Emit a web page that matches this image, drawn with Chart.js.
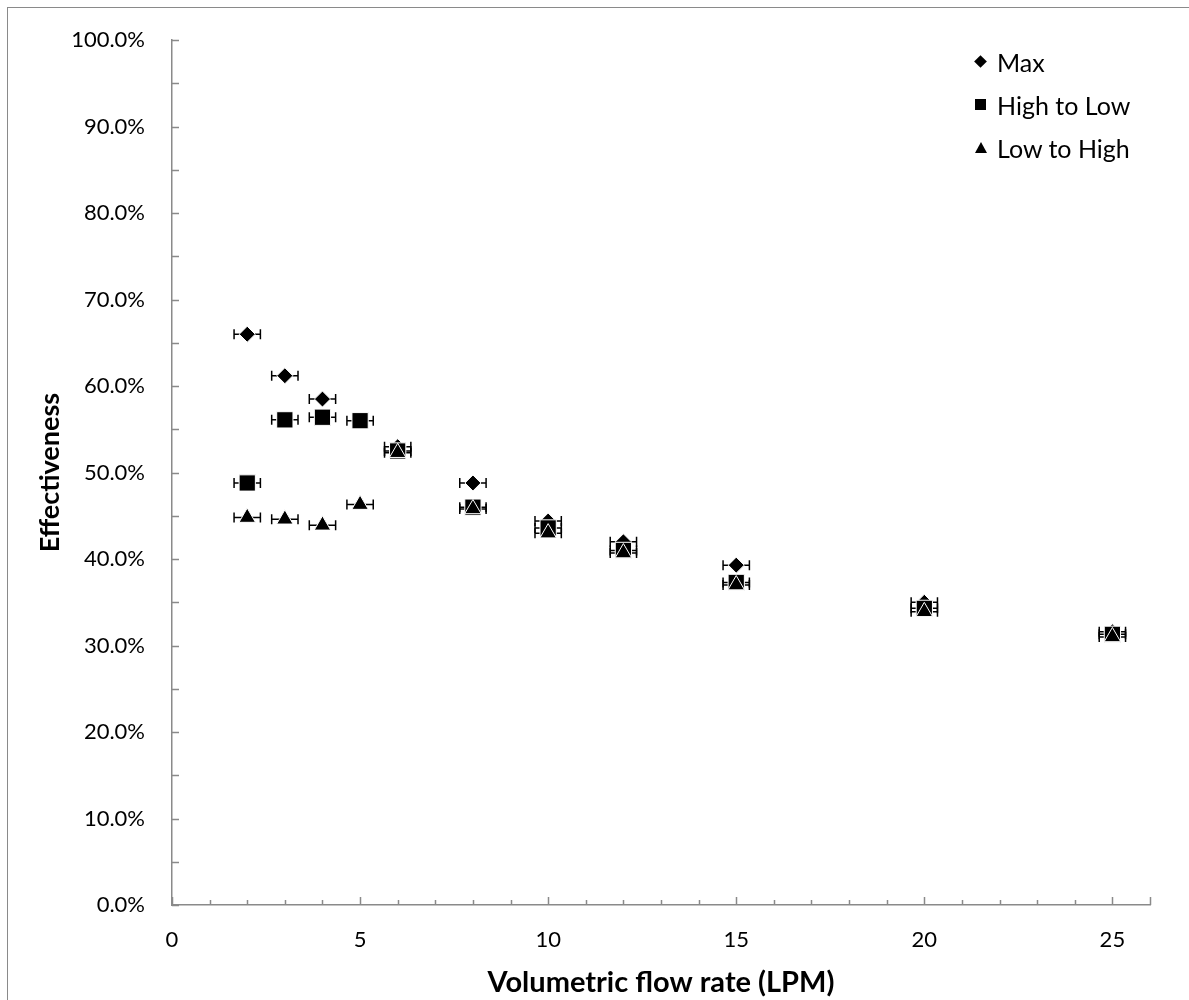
<!DOCTYPE html>
<html>
<head>
<meta charset="utf-8">
<script src="https://cdn.jsdelivr.net/npm/chart.js@4.4.0/dist/chart.umd.min.js"></script>
<style>
  html, body { margin: 0; padding: 0; background: #fff; overflow: hidden; }
  #wrap { position: relative; width: 1189px; height: 1000px; }
  #frame { position: absolute; left: 7px; top: 7px; width: 1300px; height: 1200px;
           border: 1.5px solid #8a8a8a; box-sizing: border-box; }
  canvas { position: absolute; left: 0; top: 0; }
  #legend { position: absolute; left: 973px; top: 40px; font-family: Lato, "Open Sans", sans-serif;
            font-size: 25px; color: #000; }
  .item { height: 43px; display: flex; align-items: center; margin-top: 0; }
  .mk { width: 16px; height: 16px; margin-right: 8px; position: relative; }
  .mk.diamond::after { content: ""; position: absolute; left: 3px; top: 3px; width: 9px; height: 9px;
                       background: #000; transform: rotate(45deg); }
  .mk.square::after { content: ""; position: absolute; left: 2px; top: 2px; width: 11px; height: 11px; background: #000; }
  .mk.triangle::after { content: ""; position: absolute; left: 2px; top: 2px; width: 0; height: 0;
                        border-left: 6px solid transparent; border-right: 6px solid transparent;
                        border-bottom: 11px solid #000; }
</style>
</head>
<body>
<div id="wrap">
  <div id="frame"></div>
  <canvas id="chart" width="1189" height="1000"></canvas>
  <div id="legend"></div>
</div>
<script>
// flow rates (LPM) and effectiveness (%)
var maxX = [2, 3, 4, 6, 8, 10, 12, 15, 20, 25];
var maxY = [66.0, 61.2, 58.5, 53.0, 48.8, 44.4, 42.0, 39.3, 35.0, 31.6];

var highLowX = [2, 3, 4, 5, 6, 8, 10, 12, 15, 20, 25];
var highLowY = [48.8, 56.1, 56.4, 56.0, 52.5, 46.0, 43.6, 41.0, 37.3, 34.3, 31.3];

var lowHighX = [2, 3, 4, 5, 6, 8, 10, 12, 15, 20, 25];
var lowHighY = [44.8, 44.6, 43.9, 46.3, 52.3, 45.8, 43.0, 40.7, 37.0, 33.9, 31.0];

var seriesNames = ["Max", "High to Low", "Low to High"];
var xTickValues = [0, 5, 10, 15, 20, 25];
var xError = 0.35; // +/- LPM

function toPoints(xs, ys) {
    var pts = [];
    xs.forEach(function (x, i) { pts.push({ x: x, y: ys[i] }); });
    return pts;
}

var axisColor = "#8a8a8a";
var font = "Lato, 'Open Sans', sans-serif";

// horizontal error bars, drawn under the markers
var errorBars = {
    id: "errorBars",
    beforeDatasetsDraw: function (chart) {
        var ctx = chart.ctx;
        var xs = chart.scales.x, ys = chart.scales.y;
        ctx.save();
        ctx.strokeStyle = "#000";
        ctx.lineWidth = 1.5;
        chart.data.datasets.forEach(function (ds) {
            ds.data.forEach(function (p) {
                var x1 = xs.getPixelForValue(p.x - xError);
                var x2 = xs.getPixelForValue(p.x + xError);
                var y = ys.getPixelForValue(p.y);
                ctx.beginPath();
                ctx.moveTo(x1, y); ctx.lineTo(x2, y);
                ctx.moveTo(x1, y - 5); ctx.lineTo(x1, y + 5);
                ctx.moveTo(x2, y - 5); ctx.lineTo(x2, y + 5);
                ctx.stroke();
            });
        });
        ctx.restore();
    }
};

// inside tick marks like the original
var innerTicks = {
    id: "innerTicks",
    afterDraw: function (chart) {
        var ctx = chart.ctx;
        var xs = chart.scales.x, ys = chart.scales.y;
        var area = chart.chartArea;
        ctx.save();
        ctx.strokeStyle = axisColor;
        ctx.lineWidth = 1.5;
        ctx.beginPath();
        for (var v = 0; v <= 100; v += 5) {
            var py = Math.round(ys.getPixelForValue(v)) + 0.5;
            ctx.moveTo(area.left, py); ctx.lineTo(area.left + 7, py);
        }
        for (var u = 0; u <= xs.max; u += 1) {
            var px = Math.round(xs.getPixelForValue(u)) + 0.5;
            var len = (u % 5 === 0 || u === xs.max) ? 8 : 5;
            ctx.moveTo(px, area.bottom); ctx.lineTo(px, area.bottom - len);
        }
        ctx.stroke();
        ctx.restore();
    }
};

new Chart(document.getElementById("chart"), {
    type: "scatter",
    data: {
        datasets: [{
            label: seriesNames[0],
            data: toPoints(maxX, maxY),
            pointStyle: "rectRot",
            pointRadius: 8,
            order: 2
        }, {
            label: seriesNames[1],
            data: toPoints(highLowX, highLowY),
            pointStyle: "rect",
            pointRadius: 11.5,
            order: 1
        }, {
            label: seriesNames[2],
            data: toPoints(lowHighX, lowHighY),
            pointStyle: "triangle",
            pointRadius: 9.5,
            order: 0
        }]
    },
    options: {
        responsive: false,
        animation: false,
        layout: { padding: { top: 40, right: 39, left: 0, bottom: 0 } },
        elements: {
            point: { backgroundColor: "#000", borderColor: "#fff", borderWidth: 1, hoverRadius: 8 }
        },
        plugins: {
            legend: { display: false },
            tooltip: { enabled: false }
        },
        scales: {
            x: {
                type: "linear",
                min: 0,
                max: 26,
                afterBuildTicks: function (scale) {
                    scale.ticks = xTickValues.map(function (v) { return { value: v }; });
                },
                afterFit: function (scale) { scale.height = 95; },
                grid: { display: false, drawTicks: false },
                border: { display: true, color: axisColor, width: 1.5 },
                ticks: { color: "#000", padding: 22, font: { family: font, size: 22 } },
                title: {
                    display: true,
                    text: "Volumetric flow rate (LPM)",
                    color: "#000",
                    padding: { top: 0, bottom: 0 },
                    font: { family: font, size: 29, weight: "bold" }
                }
            },
            y: {
                min: 0,
                max: 100,
                ticks: {
                    stepSize: 10,
                    color: "#000",
                    padding: 27,
                    font: { family: font, size: 22 },
                    callback: function (v) { return v.toFixed(1) + "%"; }
                },
                afterFit: function (scale) { scale.width = 172; },
                grid: { display: false, drawTicks: false },
                border: { display: true, color: axisColor, width: 1.5 },
                title: {
                    display: true,
                    text: "Effectiveness",
                    color: "#000",
                    padding: { top: 34, bottom: 0 },
                    font: { family: font, size: 27, weight: "bold" }
                }
            }
        }
    },
    plugins: [errorBars, innerTicks]
});

// legend inside the plot, top right
var shapes = ["diamond", "square", "triangle"];
var legend = document.getElementById("legend");
seriesNames.forEach(function (name, i) {
    var row = document.createElement("div");
    row.className = "item";
    var mk = document.createElement("span");
    mk.className = "mk " + shapes[i];
    var txt = document.createElement("span");
    txt.textContent = name;
    row.appendChild(mk);
    row.appendChild(txt);
    legend.appendChild(row);
});
</script>
</body>
</html>
